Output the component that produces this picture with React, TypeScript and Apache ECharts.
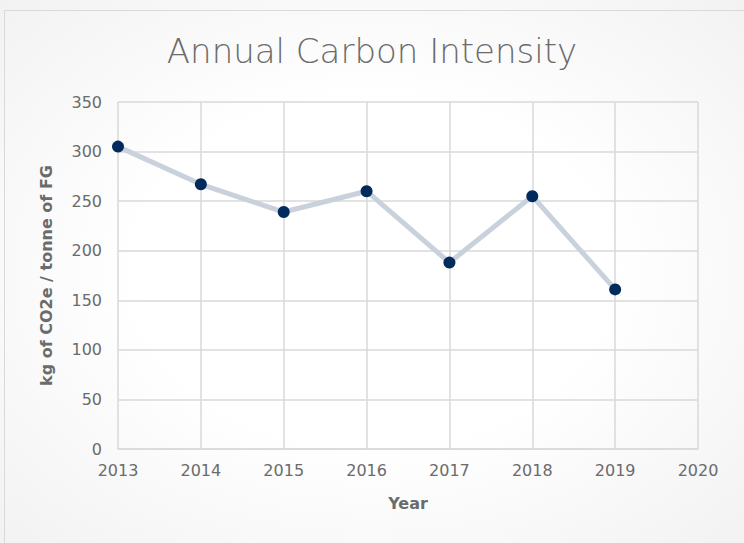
import React, { useEffect, useRef } from "react";
import * as echarts from "echarts";

const years = [2013, 2014, 2015, 2016, 2017, 2018, 2019];
const intensity = [305, 267, 239, 260, 188, 255, 161];
const titleText = "Annual Carbon Intensity";
const xName = "Year";
const yName = "kg of CO2e / tonne of FG";

export default function App() {
  const ref = useRef<HTMLDivElement>(null);
  useEffect(() => {
    if (!ref.current) return;
    const chart = echarts.init(ref.current, null, { renderer: "svg" });
    const font = "'DejaVu Sans', sans-serif";
    chart.setOption({
      animation: false,
      backgroundColor: "transparent",
      title: {
        text: titleText,
        left: "center",
        top: 29,
        textStyle: { fontFamily: font, fontSize: 34, fontWeight: 200, color: "#6b6b6b" },
      },
      grid: { left: 118, right: 46, top: 102, bottom: 94 },
      xAxis: {
        type: "value",
        min: 2013,
        max: 2020,
        interval: 1,
        name: xName,
        nameLocation: "middle",
        nameGap: 46,
        nameTextStyle: { fontFamily: font, fontSize: 16, fontWeight: "bold", color: "#6b6b6b" },
        axisLine: { show: true, lineStyle: { color: "#d9d9d9", width: 1.5 } },
        axisTick: { show: false },
        axisLabel: {
          margin: 13,
          fontFamily: font,
          fontSize: 16,
          color: "#6b6b6b",
          formatter: (v: number) => String(v),
        },
        splitLine: { show: true, lineStyle: { color: "#d9d9d9", width: 1.5 } },
      },
      yAxis: {
        type: "value",
        min: 0,
        max: 350,
        interval: 50,
        name: yName,
        nameLocation: "middle",
        nameGap: 64,
        nameTextStyle: { fontFamily: font, fontSize: 16, fontWeight: "bold", color: "#6b6b6b" },
        axisLine: { show: false },
        axisTick: { show: false },
        axisLabel: { margin: 16, fontFamily: font, fontSize: 16, color: "#6b6b6b" },
        splitLine: { show: true, lineStyle: { color: "#d9d9d9", width: 1.5 } },
      },
      series: [
        {
          type: "line",
          data: years.map((y, i) => [y, intensity[i]]),
          symbol: "circle",
          symbolSize: 12,
          lineStyle: { color: "#c9d2dc", width: 5 },
          itemStyle: { color: "#002b5c" },
          z: 3,
        },
      ],
    });
    return () => chart.dispose();
  }, []);
  return (
    <div
      style={{
        position: "absolute",
        left: 0,
        top: 0,
        width: 744,
        height: 543,
        overflow: "hidden",
        background: "radial-gradient(ellipse at 50% 50%, #ffffff 45%, #f2f2f2 100%)",
      }}
    >
      <div
        style={{
          position: "absolute",
          left: 4,
          top: 10,
          width: 760,
          height: 560,
          border: "1px solid #d9d9d9",
          boxSizing: "border-box",
        }}
      />
      <div ref={ref} style={{ position: "absolute", left: 0, top: 0, width: 744, height: 543 }} />
    </div>
  );
}
